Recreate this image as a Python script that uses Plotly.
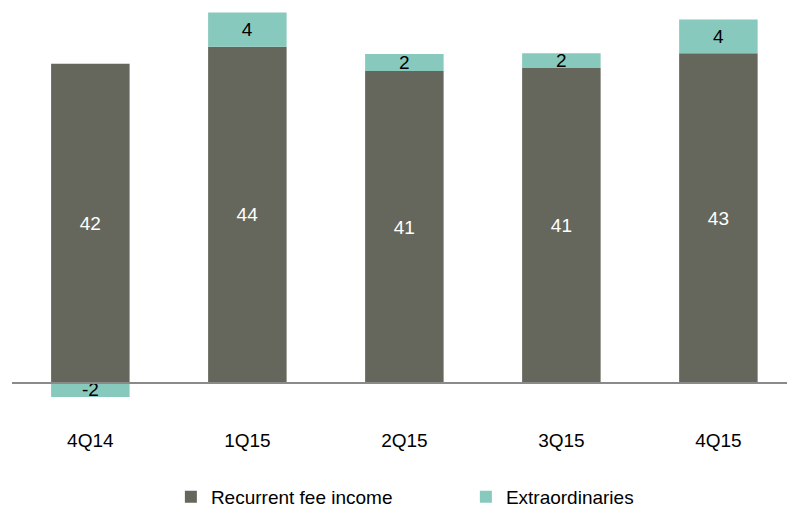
import plotly.graph_objects as go

quarters = ["4Q14", "1Q15", "2Q15", "3Q15", "4Q15"]
recurrent = [42.0, 44.25, 41.05, 41.45, 43.4]
extraordinaries = [-1.84, 4.5, 2.24, 1.93, 4.43]

dark = "#66675C"
teal = "#88C9BD"
font_family = "Liberation Sans, Arial, sans-serif"
fs = 19

fig = go.Figure()
fig.add_trace(go.Bar(
    x=quarters, y=recurrent, name="Recurrent fee income",
    marker=dict(color=dark, line=dict(width=0)),
    text=[f"{v:.0f}" for v in recurrent], textposition="inside", textangle=0,
    insidetextanchor="middle", constraintext="none",
    textfont=dict(color="white", size=fs, family=font_family),
    width=0.5,
))
fig.add_trace(go.Bar(
    x=quarters, y=extraordinaries, name="Extraordinaries",
    marker=dict(color=teal, line=dict(width=0)),
    text=[f"{v:.0f}" for v in extraordinaries], textposition="inside", textangle=0,
    insidetextanchor="middle", constraintext="none",
    textfont=dict(color="black", size=fs, family=font_family),
    width=0.5,
))

fig.add_shape(type="line", xref="paper", yref="y", x0=0, x1=1, y0=0, y1=0,
              line=dict(color="#8A8A8A", width=2), layer="above")

fig.update_layout(
    barmode="relative",
    width=787, height=512,
    margin=dict(l=12, r=0, t=5, b=87, autoexpand=False),
    paper_bgcolor="white", plot_bgcolor="white",
    font=dict(family=font_family, size=fs, color="black"),
    xaxis=dict(range=[-0.499, 4.437], showgrid=False, zeroline=False,
               showline=False, ticks="", ticklabelstandoff=2, automargin=False,
               tickfont=dict(size=fs, color="black")),
    yaxis=dict(range=[-5.53, 49.74], visible=False, showgrid=False,
               zeroline=False, automargin=False),
    legend=dict(orientation="h", x=0.205, xanchor="left", y=-0.171, yanchor="middle",
                entrywidth=250, font=dict(size=fs, color="black"),
                traceorder="normal"),
    showlegend=True,
)

fig.write_html("out.html", config={"displayModeBar": False},
               post_script="document.body.style.margin='0';")
